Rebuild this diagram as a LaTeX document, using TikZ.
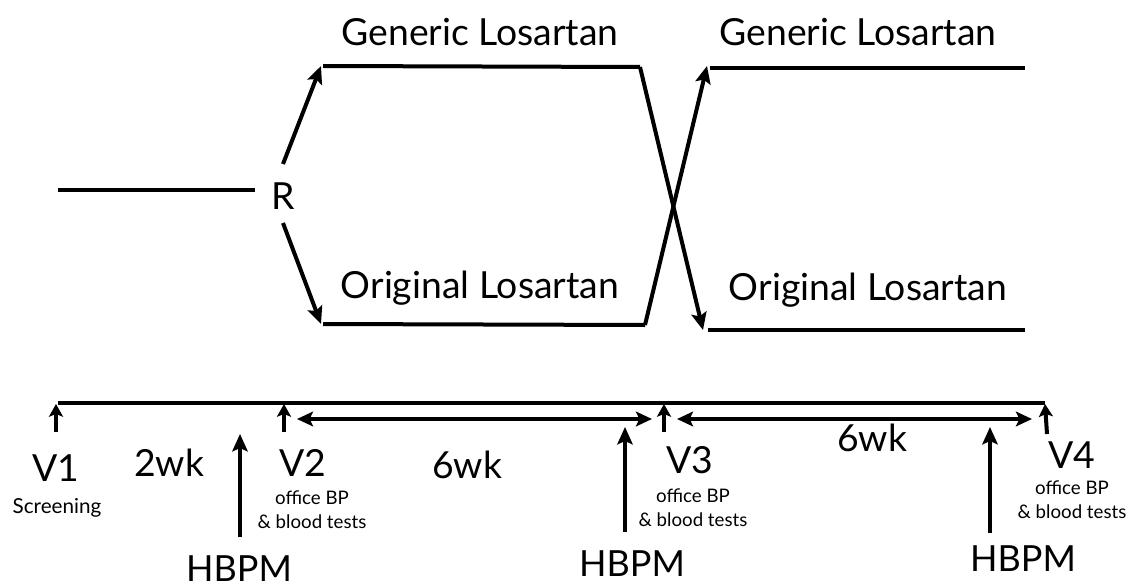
\documentclass[tikz,border=0pt]{standalone}
\usepackage{fontspec}
\setmainfont{Lato}
\usetikzlibrary{arrows.meta}
\begin{document}
\begin{tikzpicture}[x=0.75pt,y=-0.75pt,
  ln/.style={line width=3pt},
  arr/.style={line width=3pt,-{Stealth[length=13pt,width=11.5pt,inset=2.5pt]}},
  sarr/.style={line width=3pt,-{Stealth[length=9.5pt,width=10.5pt,inset=2pt]}},
  dbl/.style={line width=3pt,{Stealth[length=12pt,width=11pt,inset=2.5pt]}-{Stealth[length=12pt,width=11pt,inset=2.5pt]}},
  big/.style={font=\fontsize{28}{30}\selectfont, inner sep=0pt},
  hb/.style={font=\fontsize{27}{30}\selectfont, inner sep=0pt},
  mid/.style={font=\fontsize{28}{30}\selectfont, inner sep=0pt},
  small/.style={font=\fontsize{14}{18}\selectfont, align=center, inner sep=0pt},
  scr/.style={font=\fontsize{15.5}{18}\selectfont, inner sep=0pt}]
\useasboundingbox (0,0) rectangle (1131,588);
% upper part
\coordinate (s0) at (58,190);
\coordinate (s1) at (255,190);
\node[big] (R) at (283,196) {R};
\coordinate (r1) at (283,164);
\coordinate (r2) at (283,223);
\coordinate (g1) at (321,66);
\coordinate (g2) at (640,67);
\coordinate (o1) at (321,324);
\coordinate (o2) at (645,325);
\coordinate (g3) at (707,66);
\coordinate (g4) at (1025,68);
\coordinate (o3) at (703,330);
\coordinate (o4) at (1025,330);
\draw[ln] (s0) -- (s1);
\draw[arr] (r1) -- (g1);
\draw[arr] (r2) -- (o1);
\draw[ln] ([xshift=1.5pt]g1) -- (g2);
\draw[ln] ([xshift=1.5pt]o1) -- (o2);
\draw[arr] (g2) -- (o3);
\draw[arr] (o2) -- (g3);
\draw[ln] ([xshift=2pt]g3 |- g4) -- (g4);
\draw[ln] ([xshift=4pt]o3) -- (o4);
\node[big] (gl1) at (480,32) {Generic Losartan};
\node[big] (gl2) at (858,32) {Generic Losartan};
\node[big] (ol1) at (480,288) {Original Losartan};
\node[big] (ol2) at (868,290) {Original Losartan};
% timeline
\coordinate (t0) at (58,403);
\coordinate (t1) at (1045,403);
\draw[ln] (t0) -- (t1);
\coordinate (v1a) at (56,432); \coordinate (v1b) at (56,404);
\coordinate (v2a) at (284,432); \coordinate (v2b) at (284,404);
\coordinate (v3a) at (664,432); \coordinate (v3b) at (664,404);
\coordinate (v4a) at (1047,434); \coordinate (v4b) at (1045,404);
\draw[sarr] (v1a) -- (v1b);
\draw[sarr] (v2a) -- (v2b);
\draw[sarr] (v3a) -- (v3b);
\draw[sarr] (v4a) -- (v4b);
\coordinate (d1a) at (297,419); \coordinate (d1b) at (652,419);
\coordinate (d2a) at (677,419); \coordinate (d2b) at (1032,419);
\draw[dbl] (d1a) -- (d1b);
\draw[dbl] (d2a) -- (d2b);
\coordinate (h1a) at (240,537); \coordinate (h1b) at (240,434);
\coordinate (h2a) at (625,532); \coordinate (h2b) at (625,427);
\coordinate (h3a) at (990,533); \coordinate (h3b) at (990,427);
\draw[arr] (h1a) -- (h1b);
\draw[arr] (h2a) -- (h2b);
\draw[arr] (h3a) -- (h3b);
% labels
\node[mid] (V1) at (56,468) {V1};
\node[scr] (scr) at (57,508) {Screening};
\node[mid] (wk2) at (169,463) {2wk};
\node[mid] (V2) at (303,463) {V2};
\node[small] (V2t) at (312,510) {office BP\\\& blood tests};
\node[mid] (wk6a) at (467,465) {6wk};
\node[mid] (V3) at (690,460) {V3};
\node[small] (V3t) at (693,508) {office BP\\\& blood tests};
\node[mid] (wk6b) at (872,438) {6wk};
\node[mid] (V4) at (1072,455) {V4};
\node[small] (V4t) at (1072,500) {office BP\\\& blood tests};
\node[hb] (hb1) at (239,569) {HBPM};
\node[hb] (hb2) at (632,564) {HBPM};
\node[hb] (hb3) at (1023,559) {HBPM};
\end{tikzpicture}
\end{document}
